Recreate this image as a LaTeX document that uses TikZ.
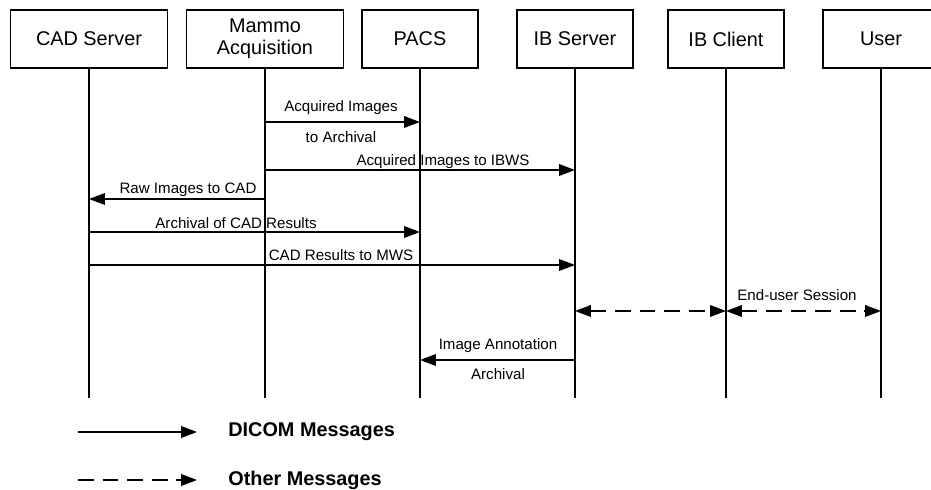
\documentclass[tikz,border=0pt]{standalone}
\usepackage{fontspec}
\setmainfont{Liberation Sans}
\usetikzlibrary{arrows.meta}

\begin{document}
\begin{tikzpicture}[x=0.02cm,y=-0.02cm,
		box/.style={draw,line width=0.85pt,minimum height=1.16cm,align=center,
			font=\fontsize{11.3}{12.6}\selectfont},
		lifeline/.style={line width=1.1pt},
		tip/.tip={Triangle[length=9pt,width=6.5pt]},
		msg/.style={line width=1.1pt,-tip},
		other/.style={line width=1.1pt,dash pattern=on 9pt off 5pt},
		lbl/.style={font=\fontsize{8.6}{10}\selectfont,inner sep=0pt}]
	% Rahmen festlegen
	\useasboundingbox (0,0) rectangle (931,490);
	
	% Teilnehmer
	\node[box,minimum width=3.14cm] (cad) at (89,39) {CAD Server};
	\node[box,minimum width=3.14cm] (mammo) at (265,39) {Mammo\\Acquisition};
	\node[box,minimum width=2.32cm] (pacs) at (420,39) {PACS};
	\node[box,minimum width=2.32cm] (ibs) at (575,39) {IB Server};
	\node[box,minimum width=2.32cm] (ibc) at (726,39) {IB Client};
	\node[box,minimum width=2.32cm] (user) at (881,39) {User};
	
	% Lebenslinien
	\foreach \n in {cad,mammo,pacs,ibs,ibc,user} {
		\coordinate (\n-end) at (\n |- 0,398);
		\draw[lifeline] (\n) -- (\n-end);
	}
	
	% Zeilen der Nachrichten
	\foreach \r/\y in {1/122,2/170,3/199,4/232,5/265,6/311,7/360}
		\coordinate (r\r) at (0,\y);
	
	% Nachrichten
	\draw[msg] (mammo |- r1) -- (pacs |- r1);
	\draw[msg] (mammo |- r2) -- (ibs |- r2);
	\draw[msg] (mammo |- r3) -- (cad |- r3);
	\draw[msg] (cad |- r4) -- (pacs |- r4);
	\draw[msg] (cad |- r5) -- (ibs |- r5);
	\draw[other,tip-tip] (ibs |- r6) -- (ibc |- r6);
	\draw[other,tip-tip] (ibc |- r6) -- (user |- r6);
	\draw[msg] (ibs |- r7) -- (pacs |- r7);
	
	% Beschriftungen
	\node[lbl] (l1a) at (341,108) {Acquired Images};
	\node[lbl] (l1b) at (341,137) {to Archival};
	\node[lbl] (l2) at (443,162) {Acquired Images to IBWS};
	\node[lbl] (l3) at (188,190) {Raw Images to CAD};
	\node[lbl] (l4) at (236,223) {Archival of CAD Results};
	\node[lbl] (l5) at (341,255) {CAD Results to MWS};
	\node[lbl] (l6) at (797,295) {End-user Session};
	\node[lbl] (l7a) at (498,346) {Image Annotation};
	\node[lbl] (l7b) at (498,374) {Archival};
	
	% Legende
	\coordinate (solid-a) at (78,432);
	\coordinate (solid-b) at (197,432);
	\coordinate (dash-a) at (78,480);
	\coordinate (dash-b) at (197,480);
	\draw[msg] (solid-a) -- (solid-b);
	\draw[other,-tip] (dash-a) -- (dash-b);
	\node[anchor=west,inner sep=0pt,font=\fontsize{11.3}{12.6}\selectfont\bfseries] (dicom) at (228,432) {DICOM Messages};
	\node[anchor=west,inner sep=0pt,font=\fontsize{11.3}{12.6}\selectfont\bfseries] (others) at (228,480) {Other Messages};
\end{tikzpicture}
\end{document}
